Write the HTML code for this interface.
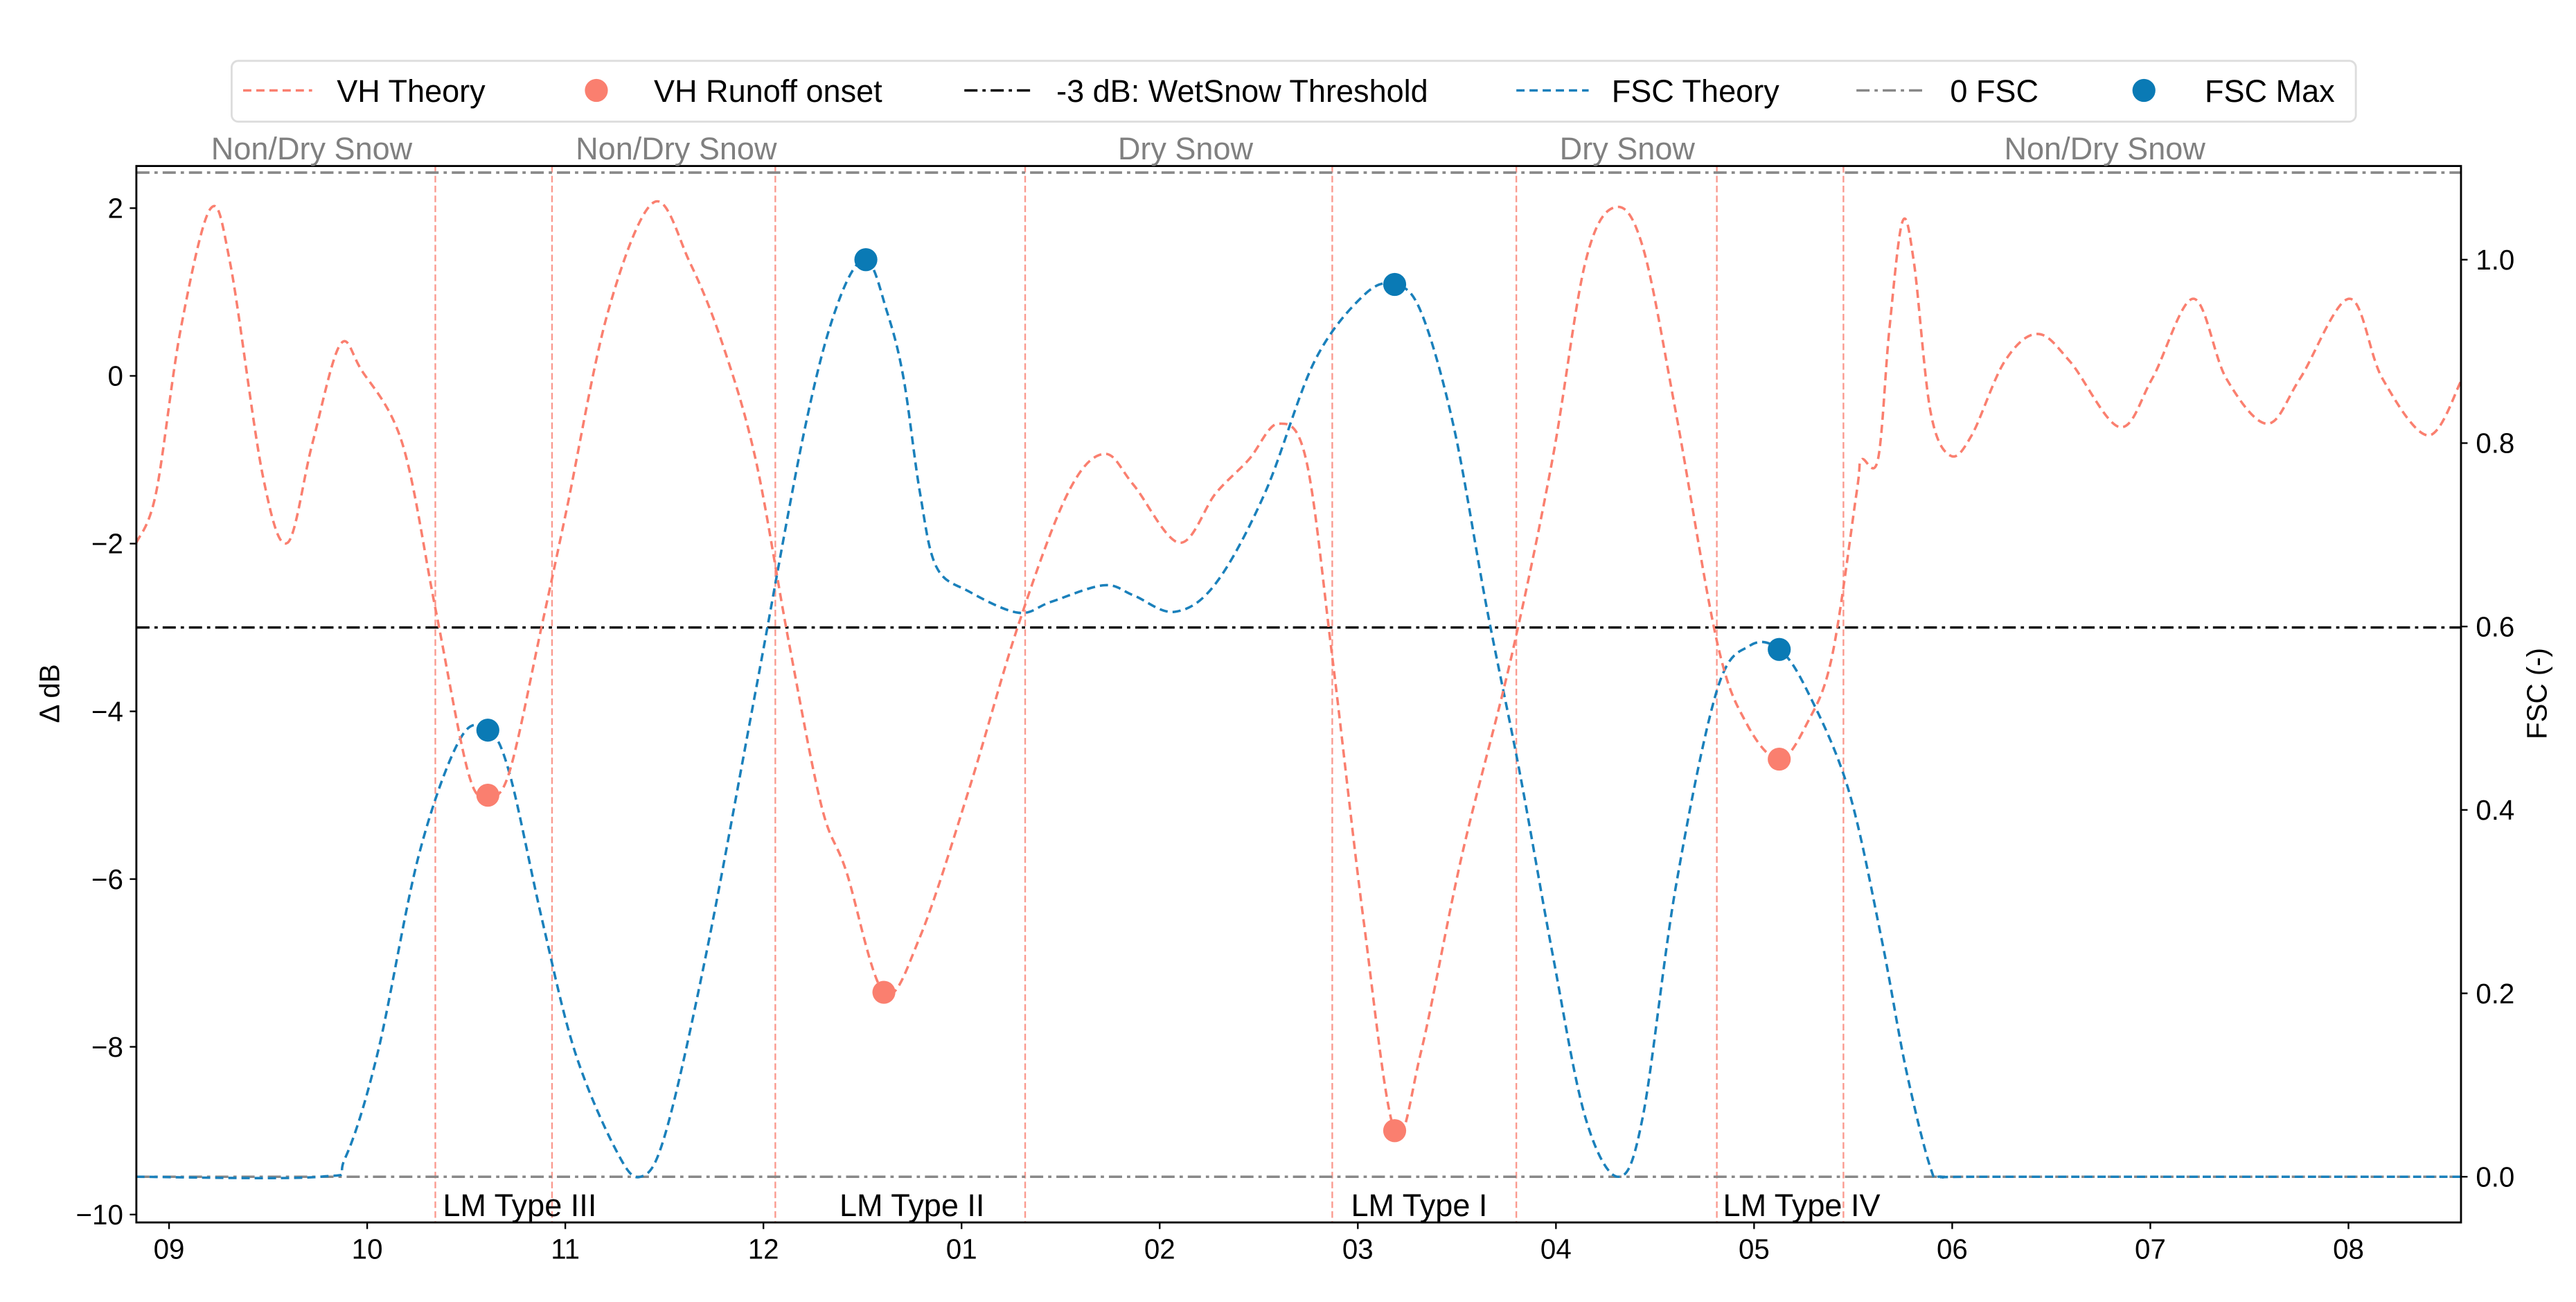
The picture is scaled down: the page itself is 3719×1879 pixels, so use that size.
<!DOCTYPE html>
<html><head><meta charset="utf-8"><style>
html,body{margin:0;padding:0;background:#fff}
svg{display:block}
text{font-family:"Liberation Sans",Arial,sans-serif}
</style></head><body>
<svg id="chart" width="3719" height="1879" viewBox="0 0 1568 792.2" xmlns="http://www.w3.org/2000/svg">
<g id="legend">
<rect x="141" y="37" width="1293" height="37" rx="4" fill="#fff" stroke="#ddd" stroke-width="1.2"/>
<line x1="148" y1="55" x2="190" y2="55" stroke="#fa7f6f" stroke-width="1.5" stroke-dasharray="5,3"/>
<text x="205" y="62" font-size="19">VH Theory</text>
<circle cx="363" cy="55" r="7" fill="#fa7f6f"/>
<text x="398" y="62" font-size="19">VH Runoff onset</text>
<line x1="587" y1="55" x2="630" y2="55" stroke="#000" stroke-width="1.5" stroke-dasharray="8,3,2,3"/>
<text x="643" y="62" font-size="19">-3 dB: WetSnow Threshold</text>
<line x1="923" y1="55" x2="967" y2="55" stroke="#1a80bb" stroke-width="1.5" stroke-dasharray="5,3"/>
<text x="981" y="62" font-size="19">FSC Theory</text>
<line x1="1130" y1="55" x2="1173" y2="55" stroke="#888" stroke-width="1.5" stroke-dasharray="8,3,2,3"/>
<text x="1187" y="62" font-size="19">0 FSC</text>
<circle cx="1305" cy="55" r="7" fill="#0a7ab5"/>
<text x="1342" y="62" font-size="19">FSC Max</text>
</g>
<g id="plot"></g>
</svg>
<script>
const vhMonths=[-0.165,-0.066,0.059,0.208,0.308,0.474,0.598,0.723,0.863,0.971,1.178,1.344,1.510,1.609,1.717,1.883,2.007,2.215,2.447,2.629,2.795,2.961,3.127,3.292,3.417,3.608,3.790,4.039,4.288,4.536,4.719,4.868,5.100,5.283,5.449,5.598,5.739,5.871,6.029,6.186,6.319,6.526,6.775,6.982,7.148,7.297,7.438,7.604,7.812,7.961,8.127,8.268,8.393,8.517,8.542,8.625,8.683,8.749,8.807,8.890,8.990,9.098,9.264,9.430,9.595,9.844,10.010,10.217,10.383,10.590,10.756,11.005,11.171,11.403,11.569];
const vhValues=[-1.99,-1.40,0.56,1.99,1.35,-1.20,-1.99,-0.81,0.37,0.07,-0.81,-2.77,-4.73,-5.0,-4.73,-2.96,-1.59,0.76,2.07,1.35,0.37,-1.00,-3.16,-5.12,-5.90,-7.35,-6.69,-4.92,-2.96,-1.40,-0.93,-1.30,-1.99,-1.40,-1.00,-0.57,-1.00,-3.35,-6.49,-9.0,-8.06,-5.71,-3.35,-1.00,1.35,2.01,1.54,-0.42,-3.16,-4.14,-4.57,-4.14,-3.35,-1.40,-1.00,-1.00,0.56,1.84,1.35,-0.42,-0.95,-0.71,0.17,0.50,0.17,-0.61,-0.03,0.92,-0.03,-0.57,-0.03,0.92,-0.03,-0.71,-0.06];
const fscMonths=[-0.165,0.764,0.888,1.054,1.261,1.468,1.609,1.717,1.883,2.049,2.256,2.380,2.505,2.712,2.961,3.210,3.375,3.517,3.624,3.707,3.790,3.873,4.039,4.288,4.453,4.719,4.868,5.075,5.283,5.532,5.781,6.029,6.186,6.319,6.485,6.651,6.817,6.982,7.148,7.314,7.438,7.604,7.812,7.978,8.127,8.268,8.475,8.641,8.766,8.890,8.95,9.20,11.569];
const fscValues=[0,0,0.02,0.136,0.351,0.477,0.487,0.441,0.280,0.136,0.029,0,0.047,0.244,0.530,0.817,0.952,1.0,0.943,0.871,0.746,0.665,0.638,0.615,0.627,0.645,0.634,0.616,0.647,0.746,0.889,0.961,0.973,0.943,0.817,0.620,0.441,0.244,0.065,0,0.065,0.315,0.530,0.579,0.575,0.530,0.423,0.262,0.118,0.01,0,0,0];
const onsetMonths=[1.609,3.608,6.186,8.127];
const onsetValues=[-5.0,-7.35,-9.0,-4.57];
const fscMaxMonths=[1.609,3.517,6.186,8.127];
const fscMaxValues=[0.487,1.0,0.973,0.575];
const boundaryMonths=[1.344,1.933,3.060,4.321,5.871,6.800,7.812,8.451];
const monthLabels=["09","10","11","12","01","02","03","04","05","06","07","08"];
const leftTicks=[2,0,-2,-4,-6,-8,-10];
const rightTicks=[1.0,0.8,0.6,0.4,0.2,0.0];
const regionLabels=["Non/Dry Snow","Non/Dry Snow","Dry Snow","Dry Snow","Non/Dry Snow"];
const regionCenters=[0.72,2.56,5.13,7.36,9.77];
const lmLabels=["LM Type III","LM Type II","LM Type I","LM Type IV"];
const lmCenters=[1.77,3.75,6.31,8.24];
const threshold=-3;

const L=83,R=1498,T=101,B=743.8;
const X=m=>102.9+m*120.6;
const Y=d=>228.7-d*51.03;
const Y2=f=>716-f*558;
const NS="http://www.w3.org/2000/svg";
const plot=document.getElementById('plot');
function mk(tag,attrs,parent){const e=document.createElementNS(NS,tag);for(const k in attrs)e.setAttribute(k,attrs[k]);(parent||plot).appendChild(e);return e;}
function smooth(pts){let d=`M${pts[0][0]},${pts[0][1]}`;for(let i=0;i<pts.length-1;i++){const p0=pts[Math.max(0,i-1)],p1=pts[i],p2=pts[i+1],p3=pts[Math.min(pts.length-1,i+2)];const c1=[p1[0]+(p2[0]-p0[0])/6,p1[1]+(p2[1]-p0[1])/6],c2=[p2[0]-(p3[0]-p1[0])/6,p2[1]-(p3[1]-p1[1])/6];d+=`C${c1[0]},${c1[1]} ${c2[0]},${c2[1]} ${p2[0]},${p2[1]}`;}return d;}

boundaryMonths.forEach(m=>{const e=mk('line',{x1:X(m),x2:X(m),y1:T,y2:B,stroke:'#fa9a8f','stroke-width':1,'stroke-dasharray':'4,2'});

});
let e=mk('line',{x1:L,x2:R,y1:Y2(1.095),y2:Y2(1.095),stroke:'#888','stroke-width':1.5,'stroke-dasharray':'8,3,2,3'});


e=mk('line',{x1:L,x2:R,y1:Y2(0),y2:Y2(0),stroke:'#888','stroke-width':1.5,'stroke-dasharray':'8,3,2,3'});


e=mk('line',{x1:L,x2:R,y1:Y(threshold),y2:Y(threshold),stroke:'#000','stroke-width':1.4,'stroke-dasharray':'8,3,2,3'});


e=mk('path',{d:smooth(fscMonths.map((m,i)=>[X(m),Y2(fscValues[i])])),fill:'none',stroke:'#1a80bb','stroke-width':1.5,'stroke-dasharray':'5,3'});


e=mk('path',{d:smooth(vhMonths.map((m,i)=>[X(m),Y(vhValues[i])])),fill:'none',stroke:'#fa7f6f','stroke-width':1.5,'stroke-dasharray':'5,3'});


onsetMonths.forEach((m,i)=>{const c=mk('circle',{cx:X(m),cy:Y(onsetValues[i]),r:7,fill:'#fa7f6f'});

});
fscMaxMonths.forEach((m,i)=>{const c=mk('circle',{cx:X(m),cy:Y2(fscMaxValues[i]),r:7,fill:'#0a7ab5'});

});
e=mk('rect',{x:L,y:T,width:R-L,height:B-T,fill:'none',stroke:'#000','stroke-width':1.2});


leftTicks.forEach(v=>{mk('line',{x1:L-4,x2:L,y1:Y(v),y2:Y(v),stroke:'#000'});
const t=mk('text',{x:L-8,y:Y(v)+6,'font-size':17,'text-anchor':'end'});t.textContent=v<0?'\u2212'+(-v):v;

});
rightTicks.forEach(v=>{mk('line',{x1:R,x2:R+4,y1:Y2(v),y2:Y2(v),stroke:'#000'});
const t=mk('text',{x:R+9,y:Y2(v)+6,'font-size':17});t.textContent=v.toFixed(1);

});
monthLabels.forEach((lab,i)=>{mk('line',{x1:X(i),x2:X(i),y1:B,y2:B+4,stroke:'#000'});
const t=mk('text',{x:X(i),y:B+22,'font-size':17,'text-anchor':'middle'});t.textContent=lab;

});
regionLabels.forEach((lab,i)=>{const t=mk('text',{x:X(regionCenters[i]),y:97,'font-size':19,'text-anchor':'middle',fill:'#808080'});t.textContent=lab;

});
lmLabels.forEach((lab,i)=>{const t=mk('text',{x:X(lmCenters[i]),y:740,'font-size':19,'text-anchor':'middle'});t.textContent=lab;

});
let t=mk('text',{x:36,y:422,'font-size':17,'text-anchor':'middle',transform:'rotate(-90 36 422)'});t.textContent='\u0394 dB';


t=mk('text',{x:1550,y:422,'font-size':17,'text-anchor':'middle',transform:'rotate(-90 1550 422)'});t.textContent='FSC (-)';


</script>
</body></html>
